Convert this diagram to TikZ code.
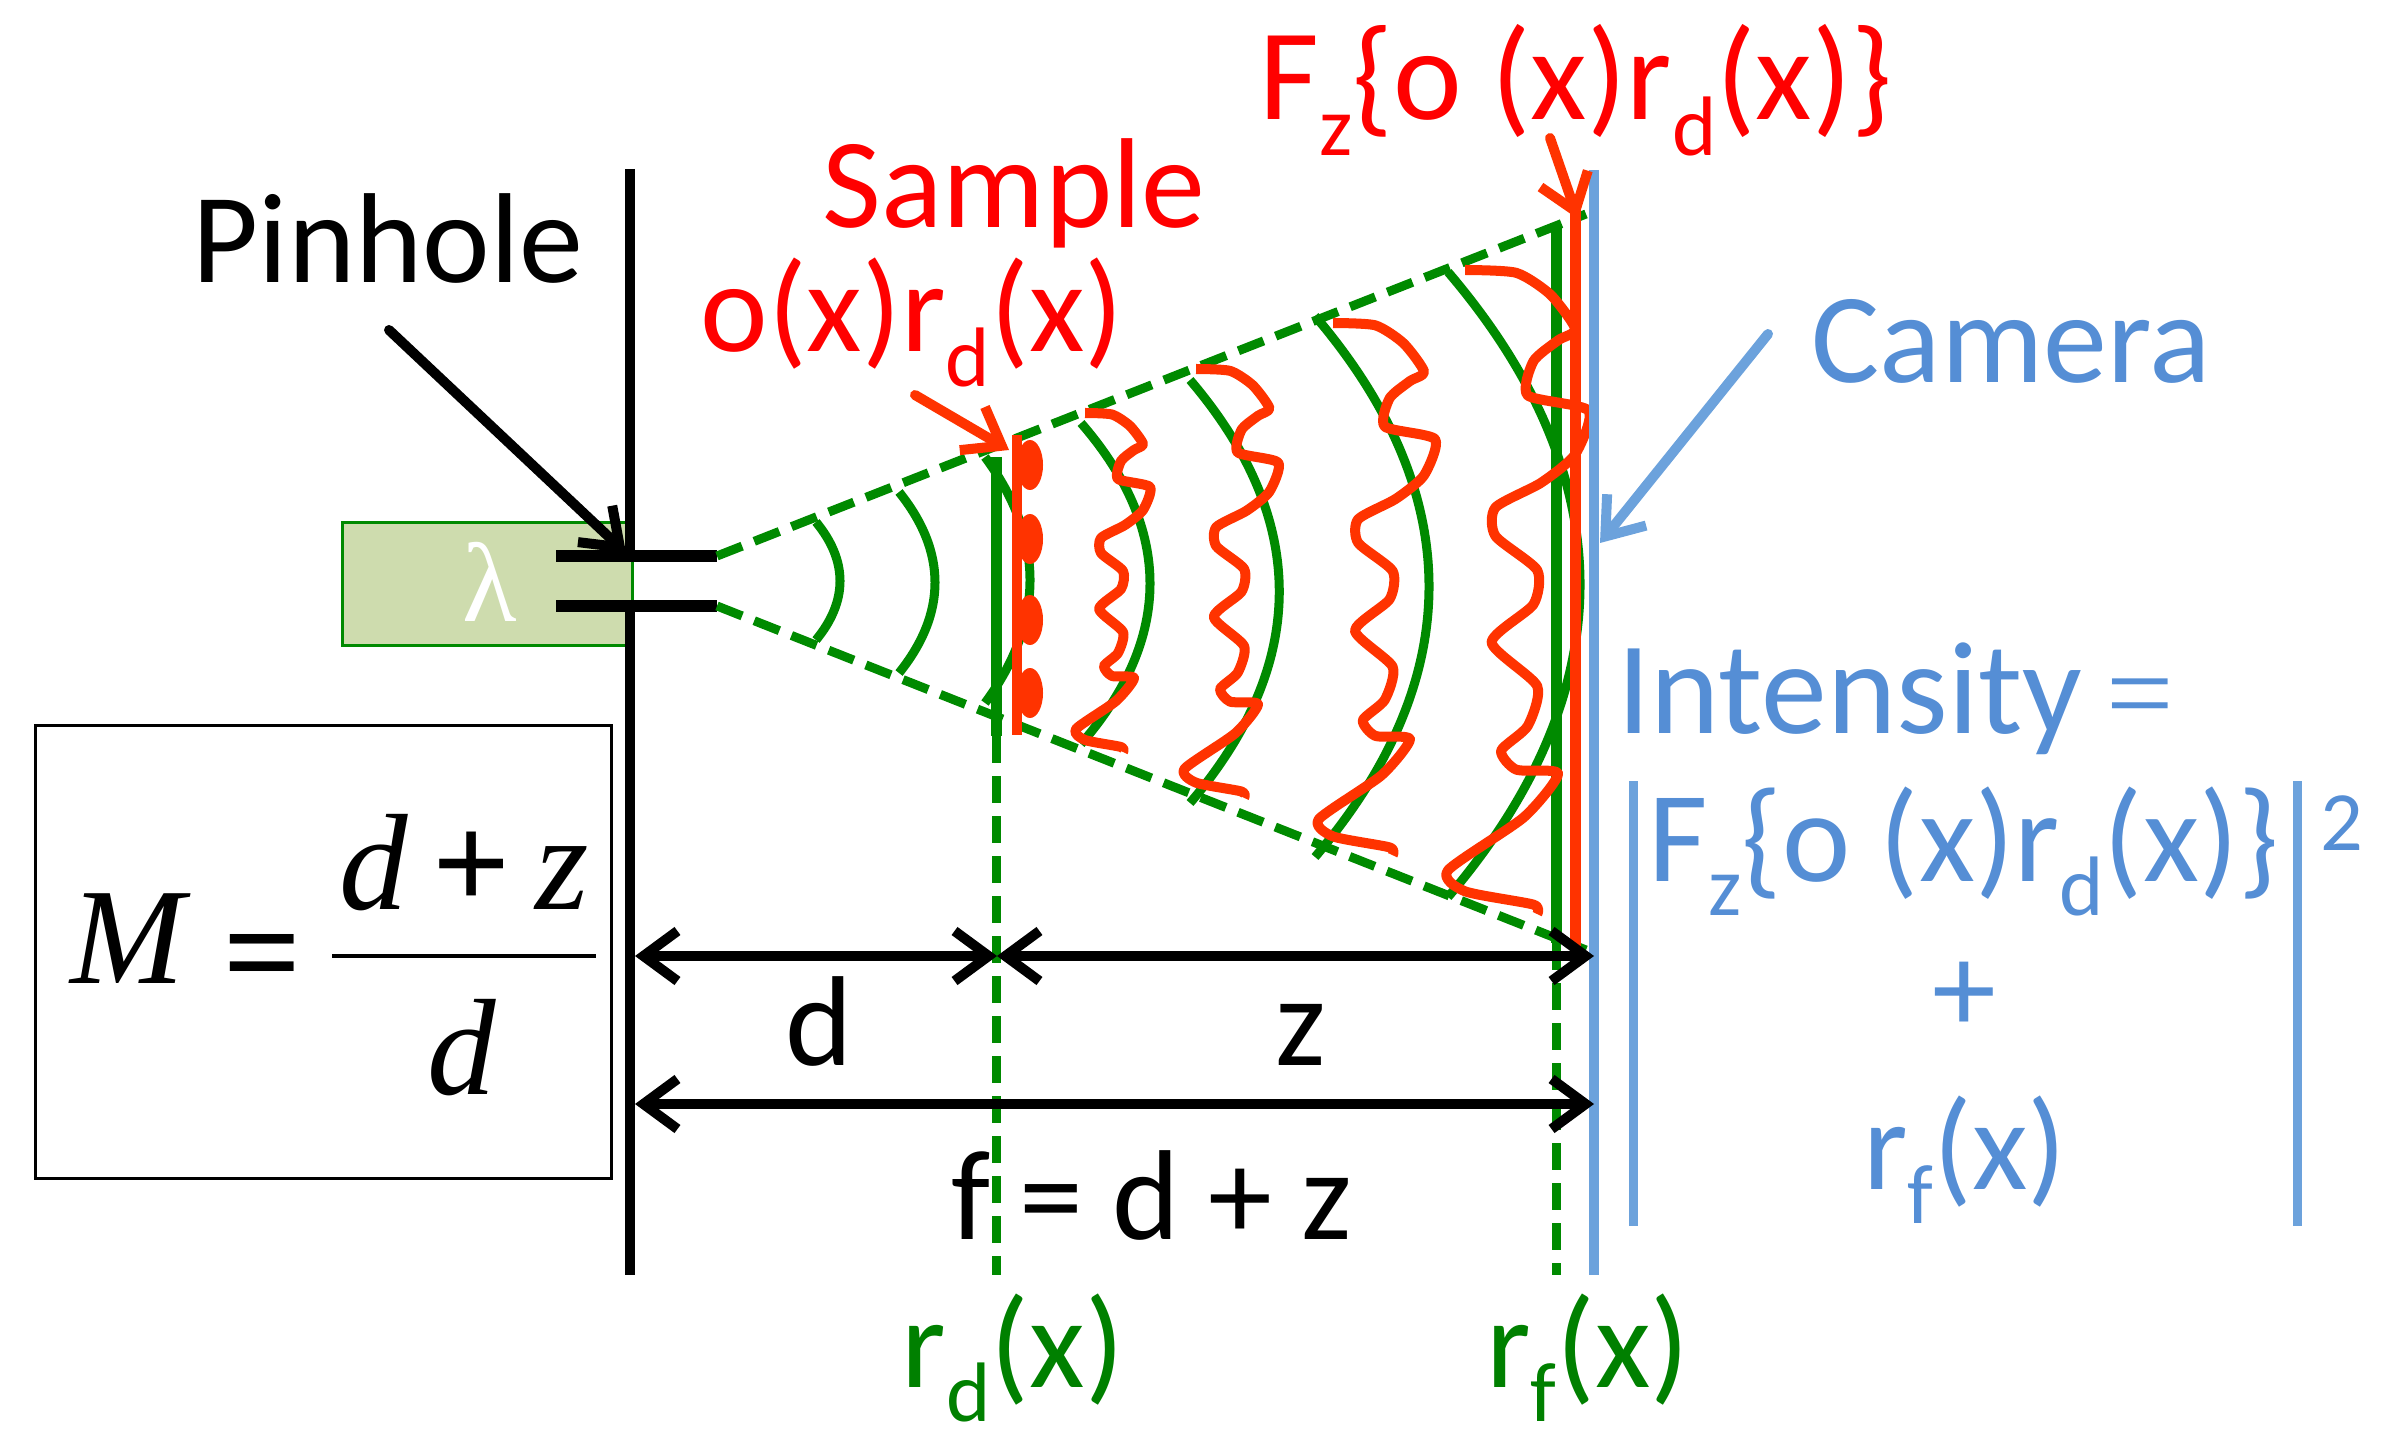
\documentclass[tikz,border=0pt]{standalone}
\usepackage{fontspec}
\setmainfont{Carlito}
\newfontfamily\timesfont{Liberation Serif}
\usetikzlibrary{arrows.meta}
\definecolor{beamgreen}{HTML}{008A00}
\definecolor{textgreen}{HTML}{008000}
\definecolor{wavered}{HTML}{FF3300}
\definecolor{camblue}{HTML}{6CA2DC}
\definecolor{textblue}{HTML}{558ED5}
\definecolor{boxgreen}{HTML}{CEDCAE}
\newcommand{\lowsub}[1]{\raisebox{-0.27em}{\fontsize{24}{24}\selectfont #1}}
\tikzset{
  lab/.style={font=\fontsize{36.4}{40}\selectfont,inner sep=0pt,anchor=base},
  formula/.style={font=\timesfont\fontsize{39}{42}\selectfont,inner sep=0pt,anchor=base},
  barb/.style={-{Straight Barb[length=0.34cm,width=0.5cm]},line cap=round},
  dbarb/.style={{Straight Barb[length=0.34cm,width=0.5cm]}-{Straight Barb[length=0.34cm,width=0.5cm]},line cap=round},
  rim/.style={beamgreen,line width=0.09cm,dash pattern=on 0.27cm off 0.13cm},
  front/.style={beamgreen,line width=0.09cm},
  wavy/.style={wavered,line width=0.1cm,line join=round},
}
\begin{document}
\begin{tikzpicture}[x=0.01cm,y=-0.01cm]
  \useasboundingbox (0,0) rectangle (2392,1443);
  % laser block and pinhole plate
  \node[draw=beamgreen,fill=boxgreen,line width=0.03cm,minimum width=2.9cm,minimum height=1.23cm,inner sep=0pt] (laser) at (487.5,584) {};
  \node[font=\timesfont\fontsize{32}{34}\selectfont,text=white,inner sep=0pt] (lambda) at (490,582) {λ};
  \coordinate (plateTop) at (630,169);
  \coordinate (plateUp) at (630,556);
  \coordinate (plateLow) at (630,606);
  \coordinate (plateEnd) at (630,1275);
  \draw[line width=0.1cm] (plateTop) -- (plateUp) (plateLow) -- (plateEnd);
  \coordinate (barUpL) at (556,556);
  \coordinate (barUpR) at (717,556);
  \coordinate (barLowL) at (556,606);
  \coordinate (barLowR) at (717,606);
  \draw[line width=0.11cm] (barUpL) -- (barUpR) (barLowL) -- (barLowR);
  % cone edges
  \coordinate (coneTop) at (1586,214);
  \coordinate (coneLow) at (1586,950);
  \draw[rim] (barUpR) -- (coneTop);
  \draw[rim] (barLowR) -- (coneLow);
  % wavefronts
  \foreach \xa/\xc/\ya/\yb in {816/848/522/640, 899/947/492/673, 985/1045/457/703,
      1081/1173/423/744, 1190/1309/380/803, 1315/1467/316/857, 1448/1624/272/897} {
    \draw[front] (\xa,\ya) .. controls (\xc,\ya+0.33*\yb-0.33*\ya) and (\xc,\yb-0.33*\yb+0.33*\ya) .. (\xa,\yb);
  }
  % the two reference planes
  \coordinate (planeDTop) at (996,457);
  \coordinate (planeDMid) at (996,736);
  \coordinate (planeDEnd) at (996,1275);
  \coordinate (planeFTop) at (1556,224);
  \coordinate (planeFMid) at (1556,943);
  \coordinate (planeFEnd) at (1556,1275);
  \draw[front,line width=0.11cm] (planeDTop) -- (planeDMid);
  \draw[front,line width=0.11cm] (planeFTop) -- (planeFMid);
  \draw[rim] (planeDMid) -- (planeDEnd);
  \draw[rim] (planeFMid) -- (planeFEnd);
  % distorted fronts, one shape scaled
  \foreach \wx/\wy/\ws in {1085/413/1, 1196/369/1.265, 1333/323/1.57, 1465/270/1.9} {
    \begin{scope}[shift={(\wx,\wy)},scale=\ws]
      \draw[wavy] plot[smooth,tension=0.4] coordinates {(0,0) (27,1.5) (45,13) (58,31) (49,37) (36,48) (33,66) (65,74)
        (58,97) (40,112) (16,125) (16,140) (38,158) (36,176) (14,196) (38,219) (33,240) (19,253)
        (27,263) (49,265) (31,288) (-9,316) (0,327) (36,334) (38,339)};
    \end{scope}
  }
  % sample with its dots
  \coordinate (sampleTop) at (1017,435);
  \coordinate (sampleEnd) at (1017,735);
  \foreach \y in {465,539,620,693} {
    \fill[wavered] (1030,\y) ellipse (13 and 25);
  }
  \draw[wavered,line width=0.1cm] (sampleTop) -- (sampleEnd);
  % far plane of the object wave, camera
  \coordinate (farTop) at (1575,210);
  \coordinate (farEnd) at (1575,950);
  \draw[wavered,line width=0.11cm] (farTop) -- (farEnd);
  \coordinate (camTop) at (1594,170);
  \coordinate (camEnd) at (1594,1275);
  \draw[camblue,line width=0.1cm] (camTop) -- (camEnd);
  % pointers
  \coordinate (pinTail) at (389,330);
  \coordinate (pinTip) at (626,553);
  \draw[barb,line width=0.1cm] (pinTail) -- (pinTip);
  \coordinate (sampleTail) at (915,395);
  \coordinate (sampleTip) at (1009,450);
  \draw[barb,wavered,line width=0.1cm] (sampleTail) -- (sampleTip);
  \coordinate (farTail) at (1550,138);
  \coordinate (farTip) at (1578,219);
  \draw[barb,wavered,line width=0.1cm] (farTail) -- (farTip);
  \coordinate (camTail) at (1768,334);
  \coordinate (camTip) at (1600,543);
  \draw[barb,camblue,line width=0.1cm] (camTail) -- (camTip);
  % distances
  \coordinate (dimA) at (635,956);
  \coordinate (dimB) at (997,956);
  \coordinate (dimC) at (1594,956);
  \coordinate (dimD) at (635,1104);
  \coordinate (dimE) at (1594,1104);
  \draw[dbarb,line width=0.1cm] (dimA) -- (dimB);
  \draw[dbarb,line width=0.1cm] (dimB) -- (dimC);
  \draw[dbarb,line width=0.1cm] (dimD) -- (dimE);
  \node[lab] (dLabel) at (819,1065) {d};
  \node[lab] (zLabel) at (1301,1065) {z};
  \node[lab] (fLabel) at (1152,1239) {f = d + z};
  % magnification box
  \node[draw,line width=0.03cm,minimum width=5.75cm,minimum height=4.52cm,inner sep=0pt] (magBox) at (323.5,952) {};
  \node[formula] (magM) at (131,983) {\textit{M}};
  \node[formula] (magEq) at (263,998) {\textbf{=}};
  \node[formula] (magNum) at (464,909) {\textit{d}\hspace{-2.8pt} \textbf{+}\hspace{-2.8pt} \textit{z}};
  \node[formula] (magDen) at (462,1094) {\textit{d}};
  \coordinate (barL) at (332,956);
  \coordinate (barR) at (596,956);
  \draw[line width=0.045cm] (barL) -- (barR);
  % labels
  \node[lab] (pinLabel) at (388,283) {Pinhole};
  \node[lab,text=red] (sampleLabel) at (1014,228) {Sample};
  \node[lab,text=red] (objLabel) at (912,352) {o(x)r\lowsub{d}(x)};
  \node[lab,text=red,font=\fontsize{37}{40}\selectfont] (farLabel) at (1576,120) {F\lowsub{z}\{o (x)r\lowsub{d}(x)\}};
  \node[lab,text=textblue] (camLabel) at (2011,383) {Camera};
  \node[lab,text=textblue,font=\fontsize{37.5}{40}\selectfont] (intLabel) at (1850,733) {Intensity};
  \node[lab,text=textblue,font=\timesfont\fontsize{34}{36}\selectfont] (eqLabel) at (2140,733) {=};
  \node[lab,text=textblue,font=\fontsize{36.8}{40}\selectfont] (holoLabel) at (1964,881) {F\lowsub{z}\{o (x)r\lowsub{d}(x)\}};
  \node[lab,text=textblue,font=\fontsize{24}{26}\selectfont] (sqLabel) at (2342,850) {2};
  \node[lab,text=textblue] (plusLabel) at (1964,1032) {+};
  \node[lab,text=textblue] (refLabel) at (1965,1189) {r\lowsub{f}(x)};
  \coordinate (modLT) at (1633,781);
  \coordinate (modLB) at (1633,1226);
  \coordinate (modRT) at (2297,781);
  \coordinate (modRB) at (2297,1226);
  \draw[camblue,line width=0.09cm] (modLT) -- (modLB);
  \draw[camblue,line width=0.09cm] (modRT) -- (modRB);
  \node[lab,text=textgreen] (rdLabel) at (1013,1387) {r\lowsub{d}(x)};
  \node[lab,text=textgreen] (rfLabel) at (1588,1387) {r\lowsub{f}(x)};
\end{tikzpicture}
\end{document}
